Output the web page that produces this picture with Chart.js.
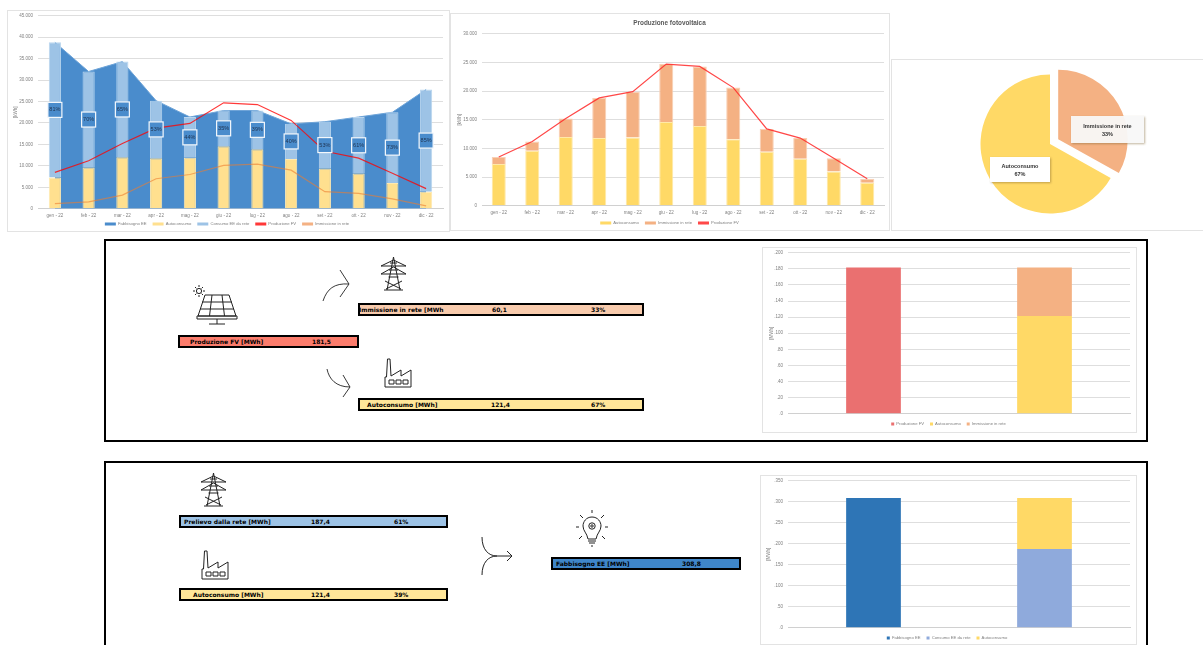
<!DOCTYPE html>
<html>
<head>
<meta charset="utf-8">
<title>Produzione fotovoltaica</title>
<script src="https://cdn.jsdelivr.net/npm/chart.js@4"></script>
<style>
  html, body { margin: 0; padding: 0; background: #fff; }
  body { position: relative; width: 1203px; height: 645px; overflow: hidden; font-family: "Liberation Sans", sans-serif; }
  .card { position: absolute; box-sizing: border-box; border: 1px solid #e3e3e3; background: #fff; }
  .card canvas { position: absolute; left: 0; top: 0; }
  .frame { position: absolute; box-sizing: border-box; border: 2px solid #000; }
  .row { position: absolute; box-sizing: border-box; border: 2px solid #000; height: 13px; font: bold 6px/9px "DejaVu Sans", sans-serif; color: #000; white-space: nowrap; overflow: hidden; }
  .row span { position: absolute; top: 0; }
  .tag { position: absolute; box-sizing: border-box; background: #fff; box-shadow: 1px 1px 2px rgba(120,90,40,.45); font: bold 5.5px/8px "Liberation Sans", sans-serif; color: #333; text-align: center; padding-top: 5px; }
  svg.icon { position: absolute; overflow: visible; fill: none; stroke: #222; stroke-width: 1; }
</style>
</head>
<body>

<div class="card" style="left:7px;top:10px;width:443px;height:222px"><canvas id="energyChart"></canvas></div>
<div class="card" style="left:450px;top:13px;width:440px;height:218px"><canvas id="pvChart"></canvas></div>
<div class="card" style="left:891px;top:59px;width:330px;height:172px"></div>
<canvas id="shareChart" style="position:absolute"></canvas>
<div class="tag" style="left:990px;top:157px;width:60px;height:25px">Autoconsumo<br>67%</div>
<div class="tag" style="left:1071px;top:116px;width:73px;height:27px;background:rgba(248,248,248,.94);padding-top:6px">Immissione in rete<br>33%</div>

<div class="frame" style="left:104px;top:239px;width:1044px;height:203px"></div>
<div class="frame" style="left:104px;top:461px;width:1044px;height:200px"></div>

<div class="row" style="left:178px;top:335px;width:181px;background:#fb7c6c"><span style="left:10px">Produzione FV [MWh]</span><span style="left:132px">181,5</span></div>
<div class="row" style="left:358px;top:303px;width:286px;background:#f8cbad"><span style="left:-1px">Immissione in rete [MWh</span><span style="left:132px">60,1</span><span style="left:231px">33%</span></div>
<div class="row" style="left:358px;top:398px;width:286px;background:#ffe699"><span style="left:7px">Autoconsumo [MWh]</span><span style="left:131px">121,4</span><span style="left:231px">67%</span></div>
<div class="row" style="left:179px;top:515px;width:269px;background:#9dc3e6"><span style="left:3px">Prelievo dalla rete [MWh]</span><span style="left:130px">187,4</span><span style="left:213px">61%</span></div>
<div class="row" style="left:179px;top:588px;width:269px;background:#ffe699"><span style="left:12px">Autoconsumo [MWh]</span><span style="left:130px">121,4</span><span style="left:213px">39%</span></div>
<div class="row" style="left:551px;top:557px;width:190px;background:#3f86c9"><span style="left:3px">Fabbisogno EE [MWh]</span><span style="left:129px">308,8</span></div>

<!-- solar panel -->
<svg class="icon" style="left:192px;top:284px" width="46" height="42" viewBox="0 0 46 42">
  <circle cx="7" cy="7" r="2.6"/>
  <path d="M7 1v2M7 11v2M1 7h2M11 7h2M3 3l1.4 1.4M9.6 9.6l1.4 1.4M3 11l1.4-1.4M9.6 4.4L11 3"/>
  <path d="M13 11h24l7 21H6zM5 32h40v3H5zM20 11l-2.5 21M30 11l2.5 21M10 18h30M8 25h34M25 35v5M17 40h16"/>
</svg>
<!-- pylon, upper panel -->
<svg class="icon" style="left:380px;top:257px" width="27" height="34" viewBox="0 0 27 34">
  <path d="M13.5 0L7 33M13.5 0L20 33M4 33h19M1 9L13.5 3L26 9zM1 17L13.5 10L26 17zM5 24l16 8M22 24l-16 8M9 13h9M8.5 20h10M10 6h7"/>
</svg>
<!-- factory, upper panel -->
<svg class="icon" style="left:384px;top:357px" width="29" height="31" viewBox="0 0 29 31">
  <path d="M1 30V20h1.5L3.5 2h2.5l1 17 10-6v6l10-6v17zM5 23h5v4H5zM12 23h5v4h-5zM19 23h5v4h-5z"/>
</svg>
<!-- flow arrows, upper panel -->
<svg class="icon" style="left:322px;top:267px" width="30" height="36" viewBox="0 0 30 36">
  <path d="M1 34C5 22 12 16 27 17M18 3l9 14-9 13" stroke-width="0.9"/>
</svg>
<svg class="icon" style="left:325px;top:367px" width="28" height="32" viewBox="0 0 28 32">
  <path d="M2 2C4 12 11 20 25 20M18 8l7 12-7 10" stroke-width="0.9"/>
</svg>
<!-- pylon, lower panel -->
<svg class="icon" style="left:200px;top:473px" width="27" height="34" viewBox="0 0 27 34">
  <path d="M13.5 0L7 33M13.5 0L20 33M4 33h19M1 9L13.5 3L26 9zM1 17L13.5 10L26 17zM5 24l16 8M22 24l-16 8M9 13h9M8.5 20h10M10 6h7"/>
</svg>
<!-- factory, lower panel -->
<svg class="icon" style="left:201px;top:549px" width="29" height="31" viewBox="0 0 29 31">
  <path d="M1 30V20h1.5L3.5 2h2.5l1 17 10-6v6l10-6v17zM5 23h5v4H5zM12 23h5v4h-5zM19 23h5v4h-5z"/>
</svg>
<!-- light bulb -->
<svg class="icon" style="left:576px;top:510px" width="32" height="40" viewBox="0 0 32 40">
  <path d="M16 7c-6 0-9 5-9 9 0 5 4 7 5 13h8c1-6 5-8 5-13 0-4-3-9-9-9zM12 31h8M13 33h6M15 36h2"/>
  <circle cx="16" cy="16" r="3.2"/><circle cx="16" cy="16" r="1.2"/>
  <path d="M16 0v3M4 5l3 3M28 5l-3 3M0 17h3M29 17h3M3 29l3-3M29 29l-3-3"/>
</svg>
<!-- merge arrow -->
<svg class="icon" style="left:481px;top:536px" width="34" height="40" viewBox="0 0 34 40">
  <path d="M1 1c0 12 6 19 15 19h15M1 39c0-12 6-19 15-19M26 15l5 5-5 5"/>
</svg>

<div class="card" style="left:762px;top:247px;width:375px;height:186px"><canvas id="pvTotalChart"></canvas></div>
<div class="card" style="left:760px;top:475px;width:377px;height:170px"><canvas id="needTotalChart"></canvas></div>

<script>
// monthly data, kWh
const months = ['gen - 22','feb - 22','mar - 22','apr - 22','mag - 22','giu - 22','lug - 22','ago - 22','set - 22','ott - 22','nov - 22','dic - 22'];
const fabbisogno = [38800,32000,34300,25200,21400,22900,22900,19800,20300,21400,22500,27800];
const autoconsumo = [7300,9600,12000,11800,11900,14600,13900,11600,9400,8200,6000,4000];
const consumoRete = [31500,22400,22300,13400,9500,8300,9000,8200,10900,13200,16500,23800];
const produzione = [8500,11200,15200,18800,19900,24700,24300,20600,13400,11800,8300,4700];
const immissione = [1200,1600,3200,7000,8000,10100,10400,9000,4000,3600,2300,700];
const quotaRete = ['81%','70%','65%','53%','44%','35%','39%','40%','53%','61%','73%','85%'];

const energyTicks = ['0','5.000','10.000','15.000','20.000','25.000','30.000','35.000','40.000','45.000'];
const pvTicks = ['0','5.000','10.000','15.000','20.000','25.000','30.000'];

// yearly totals, MWh
const pvTotalCats = ['Produzione','Ripartizione'];
const pvTotalProd = [181.5, null];
const pvTotalAuto = [null, 121.4];
const pvTotalImm = [null, 60.1];
const pvTotalTicks = ['.0','.20','.40','.60','.80','.100','.120','.140','.160','.180','.200'];

const needTotalCats = ['Fabbisogno','Ripartizione'];
const needTotalFabb = [308.8, null];
const needTotalRete = [null, 187.4];
const needTotalAuto = [null, 121.4];
const needTotalTicks = ['.0','.50','.100','.150','.200','.250','.300','.350'];

const shareLabels = ['Immissione in rete','Autoconsumo'];
const shareValues = [60.1, 121.4];
const shareExplode = 9.5;

const GREY = '#7f7f7f';
const GRID = '#dedede';
const tiny = { size: 4.5, family: '"Liberation Sans", sans-serif' };
const legendFont = { size: 4.2, family: '"Liberation Sans", sans-serif' };

function sizeCanvas(id, w, h, top) {
  const c = document.getElementById(id);
  c.width = w; c.height = h;
  c.style.width = w + 'px'; c.style.height = h + 'px';
  if (top) c.style.top = top + 'px';
  return c;
}

// solid short swatches in the legend, also for the line series
const legendOpts = {
  position: 'bottom',
  labels: {
    boxWidth: 11, boxHeight: 3, padding: 6, color: GREY, font: legendFont,
    generateLabels(chart) {
      return chart.data.datasets.map((d, i) => ({
        text: d.label, datasetIndex: i, lineWidth: 0,
        fillStyle: d.type === 'line' && !d.fill ? d.borderColor : d.backgroundColor,
        strokeStyle: 'transparent', fontColor: GREY
      }));
    }
  }
};

// tightens the gap between month labels and legend
const legendNudge = {
  id: 'legendNudge',
  afterLayout(chart, args, opts) {
    chart.legend.top += opts.y || 0;
    chart.legend.bottom += opts.y || 0;
  }
};

function axes(tickLabels, step, top, title, yWidth, xHeight, showMonths) {
  return {
    x: {
      afterFit: s => { s.height = xHeight; },
      grid: { display: false, drawTicks: false },
      border: { color: '#d0d0d0' },
      ticks: { display: showMonths, color: GREY, font: tiny, padding: 4, maxRotation: 0, autoSkip: false }
    },
    y: {
      min: 0, max: top,
      afterFit: s => { s.width = yWidth; },
      grid: { color: GRID, drawTicks: false },
      border: { display: false },
      title: { display: true, text: title, color: GREY, font: tiny, padding: 2 },
      ticks: { stepSize: step, color: GREY, font: tiny, padding: 5, callback: (v, i) => tickLabels[i] }
    }
  };
}

const base = { responsive: false, animation: false, maintainAspectRatio: false };

// white-framed percentage boxes centred on the grid share of each column
const shareBoxes = {
  id: 'shareBoxes',
  afterDatasetsDraw(chart) {
    const meta = chart.getDatasetMeta(2);
    const ctx = chart.ctx;
    ctx.save();
    ctx.font = '5.5px "Liberation Sans", sans-serif';
    ctx.textAlign = 'center';
    ctx.textBaseline = 'middle';
    meta.data.forEach((bar, i) => {
      const cy = (bar.y + bar.base) / 2;
      ctx.fillStyle = '#4a8ccc';
      ctx.strokeStyle = '#f4f8fc';
      ctx.lineWidth = 1.2;
      ctx.fillRect(bar.x - 7, cy - 7.5, 14, 15);
      ctx.strokeRect(bar.x - 7, cy - 7.5, 14, 15);
      ctx.fillStyle = '#1f3350';
      ctx.fillText(quotaRete[i], bar.x, cy);
    });
    ctx.restore();
  }
};

new Chart(sizeCanvas('energyChart', 441, 220, -3), {
  type: 'bar',
  plugins: [shareBoxes, legendNudge],
  data: {
    labels: months,
    datasets: [
      { type: 'line', label: 'Fabbisogno EE', data: fabbisogno, fill: 'origin', backgroundColor: '#4a8ccc', borderColor: '#6ea4d8', borderWidth: 1, pointRadius: 0, tension: 0, order: 3 },
      { label: 'Autoconsumo', data: autoconsumo, stack: 's', backgroundColor: '#ffe08f', borderColor: '#ffe9b0', borderWidth: 1, barPercentage: 0.36, categoryPercentage: 1, order: 2 },
      { label: 'Consumo EE da rete', data: consumoRete, stack: 's', backgroundColor: '#9dc3e6', borderColor: '#b9d5ee', borderWidth: 1, barPercentage: 0.36, categoryPercentage: 1, order: 2 },
      { type: 'line', label: 'Produzione FV', data: produzione, borderColor: 'rgba(255,0,0,.78)', backgroundColor: 'rgba(255,0,0,.78)', borderWidth: 1.2, pointRadius: 0, tension: 0, order: 1 },
      { type: 'line', label: 'Immissione in rete', data: immissione, borderColor: 'rgba(237,125,49,.6)', backgroundColor: 'rgba(237,125,49,.6)', borderWidth: 1.2, pointRadius: 0, tension: 0, order: 1 }
    ]
  },
  options: {
    ...base,
    layout: { padding: { top: -1, right: 6, left: 3, bottom: -12 } },
    plugins: { legend: legendOpts, legendNudge: { y: -4 }, tooltip: { enabled: false } },
    scales: axes(energyTicks, 5000, 45000, '[kWh]', 27, 11, true)
  }
});

new Chart(sizeCanvas('pvChart', 438, 216), {
  type: 'bar',
  plugins: [legendNudge],
  data: {
    labels: months,
    datasets: [
      { label: 'Autoconsumo', data: autoconsumo, stack: 's', backgroundColor: '#ffd966', borderColor: '#ffe9a8', borderWidth: 1, barPercentage: 0.42, categoryPercentage: 1, order: 2 },
      { label: 'Immissione in rete', data: immissione, stack: 's', backgroundColor: '#f4b183', borderColor: '#f8d0b5', borderWidth: 1, barPercentage: 0.42, categoryPercentage: 1, order: 2 },
      { type: 'line', label: 'Produzione FV', data: produzione, borderColor: 'rgba(255,40,40,.85)', backgroundColor: 'rgba(255,40,40,.85)', borderWidth: 1.2, pointRadius: 0, tension: 0, order: 1 }
    ]
  },
  options: {
    ...base,
    layout: { padding: { top: 2, right: 5, left: 4, bottom: -7 } },
    plugins: {
      title: { display: true, text: 'Produzione fotovoltaica', color: '#595959', font: { size: 6.4, weight: 'bold', family: '"Liberation Sans", sans-serif' }, padding: { top: 3, bottom: 7 } },
      legend: legendOpts, legendNudge: { y: -2 }, tooltip: { enabled: false }
    },
    scales: axes(pvTicks, 5000, 30000, '[kWh]', 27, 11, true)
  }
});

new Chart(sizeCanvas('pvTotalChart', 373, 184, -3), {
  type: 'bar',
  data: {
    labels: pvTotalCats,
    datasets: [
      { label: 'Produzione FV', data: pvTotalProd, stack: 's', backgroundColor: '#ea7070', barPercentage: 0.32, categoryPercentage: 1 },
      { label: 'Autoconsumo', data: pvTotalAuto, stack: 's', backgroundColor: '#ffd966', barPercentage: 0.32, categoryPercentage: 1 },
      { label: 'Immissione in rete', data: pvTotalImm, stack: 's', backgroundColor: '#f4b183', barPercentage: 0.32, categoryPercentage: 1 }
    ]
  },
  options: {
    ...base,
    layout: { padding: { top: 0, right: 6, left: 4, bottom: -7 } },
    plugins: { legend: { ...legendOpts, labels: { ...legendOpts.labels, boxWidth: 3 } }, tooltip: { enabled: false } },
    scales: axes(pvTotalTicks, 20, 200, '[MWh]', 21, 2, false)
  }
});

new Chart(sizeCanvas('needTotalChart', 375, 168, -3), {
  type: 'bar',
  data: {
    labels: needTotalCats,
    datasets: [
      { label: 'Fabbisogno EE', data: needTotalFabb, stack: 's', backgroundColor: '#2e75b6', barPercentage: 0.32, categoryPercentage: 1 },
      { label: 'Consumo EE da rete', data: needTotalRete, stack: 's', backgroundColor: '#8faadc', barPercentage: 0.32, categoryPercentage: 1 },
      { label: 'Autoconsumo', data: needTotalAuto, stack: 's', backgroundColor: '#ffd966', barPercentage: 0.32, categoryPercentage: 1 }
    ]
  },
  options: {
    ...base,
    layout: { padding: { top: 1, right: 6, left: 3, bottom: -9 } },
    plugins: { legend: { ...legendOpts, labels: { ...legendOpts.labels, boxWidth: 3 } }, tooltip: { enabled: false } },
    scales: axes(needTotalTicks, 50, 350, '[MWh]', 24, 2, false)
  }
});

// pull the fed-in slice out along its middle angle, keeping its radius
const explodeSlice = {
  id: 'explodeSlice',
  afterDatasetsUpdate(chart) {
    const arc = chart.getDatasetMeta(0).data[0];
    const mid = (arc.startAngle + arc.endAngle) / 2;
    arc.x += Math.cos(mid) * shareExplode;
    arc.y += Math.sin(mid) * shareExplode;
  }
};

const pieCanvas = sizeCanvas('shareChart', 170, 170);
pieCanvas.style.left = '965px';
pieCanvas.style.top = '59px';
new Chart(pieCanvas, {
  type: 'pie',
  plugins: [explodeSlice],
  data: {
    labels: shareLabels,
    datasets: [{ data: shareValues, backgroundColor: ['#f4b183', '#ffd966'], borderWidth: 0 }]
  },
  options: { ...base, layout: { padding: 15.5 }, plugins: { legend: { display: false }, tooltip: { enabled: false } } }
});
</script>
</body>
</html>
